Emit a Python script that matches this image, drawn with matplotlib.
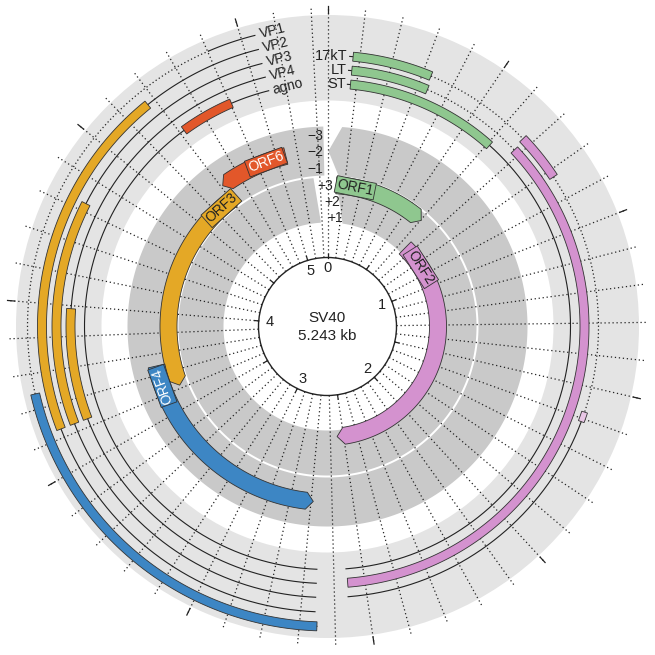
import numpy as np
import matplotlib.pyplot as plt
from matplotlib.patches import Polygon, Circle, Wedge

plt.rcParams['font.family'] = ['Liberation Sans', 'DejaVu Sans']

GENOME_LEN = 5243

# ring radii (px-like units, centre at 0,0)
CIRCLE_R = 69
PLUS_BAND = (104, 149)
MINUS_BAND = (151, 200)
OUTER_BAND = (226, 311.5)

FRAME_LABELS = ["+1", "+2", "+3", "\u22121", "\u22122", "\u22123"]
FRAME_R = [110.5, 126.5, 141.5, 159, 175.5, 192]

# ORFs (bp)
ORF_NAMES = ["ORF1", "ORF2", "ORF3", "ORF4", "ORF6"]
ORF_FRAME = [2, 0, 3, 4, 4]          # index into FRAME_R
ORF_START = [52, 650, 3617, 2689, 4709]
ORF_END = [604, 2549, 4707, 3743, 5043]
ORF_STRAND = [1, 1, -1, -1, -1]
ORF_LABEL_BP = [165, 839, 4633, 3644, 4944]
ORF_COLORS = ["#8fc78f", "#d492cf", "#e4a826", "#3d86c4", "#e2572a"]
ORF_TEXT = ["#222222", "#222222", "#222222", "white", "white"]

# late transcripts (left side)
LATE_NAMES = ["VP1", "VP2", "VP3", "VP4", "agno"]
LATE_R = [300, 285.5, 271, 257, 243]
LATE_TSS = 5039
LATE_END = 2658
LATE_EXON_START = [2651, 3626, 3626, 3626, 4716]
LATE_EXON_END = [3743, 4675, 4325, 3990, 4904]
LATE_INTRON = [(3743, 4904), None, None, None, None]
LATE_COLORS = ["#3d86c4", "#e4a826", "#e4a826", "#e4a826", "#e2572a"]

# early transcripts (right side)
EARLY_NAMES = ["17kT", "LT", "ST"]
EARLY_R = [271, 257, 243]
EARLY_START = 79
EARLY_END = 2558
T17_EXONS = [(79, 327), (672, 823), (1579, 1610)]
T17_INTRONS = [(327, 672), (823, 1579)]
LT_EXONS = [(79, 333), (679, 2556)]
LT_INTRONS = [(333, 679)]
ST_EXONS = [(79, 609)]
ST_INTRONS = []
EARLY_EXON_COLORS = ["#8fc78f", "#d492cf", "#e8c6e5"]

KB_LABELS = ["0", "1", "2", "3", "4", "5"]


def deg(bp):
    return np.asarray(bp, dtype=float) / GENOME_LEN * 360.0


def xy(theta, r):
    t = np.radians(theta)
    return r * np.sin(t), r * np.cos(t)


def band(t1, t2, r1, r2, tip_end=0.0, tip_start=0.0, t1_in=None, t2_in=None, **kw):
    # t1/t2 on the outer edge, t1_in/t2_in on the inner edge (slanted ends)
    rm = (r1 + r2) / 2
    ts = t1 + np.degrees(tip_start / rm)
    te = t2 - np.degrees(tip_end / rm)
    ts_in = ts if t1_in is None else t1_in
    te_in = te if t2_in is None else t2_in
    n = max(int(abs(te - ts) * 3) + 2, 4)
    pts = [xy(a, r2) for a in np.linspace(ts, te, n)]
    if tip_end:
        pts.append(xy(t2, rm))
    pts += [xy(a, r1) for a in np.linspace(te_in, ts_in, n)]
    if tip_start:
        pts.append(xy(t1, rm))
    return Polygon(pts, closed=True, **kw)


def arc_line(ax, t1, t2, r, **kw):
    a = np.linspace(t1, t2, max(int(abs(t2 - t1) * 3) + 2, 3))
    x, y = xy(a, r)
    ax.plot(x, y, **kw)


fig = plt.figure(figsize=(6.55, 6.55), dpi=100)
ax = fig.add_axes([0, 0, 1, 1])
ax.set_xlim(-327.5, 327.5)
ax.set_ylim(-328.5, 326.5)
ax.axis("off")

# background rings
ax.add_patch(Wedge((0, 0), OUTER_BAND[1], 0, 360, width=OUTER_BAND[1] - OUTER_BAND[0],
                   fc="#e4e4e4", ec="none", zorder=1))
ax.add_patch(band(3.3, 354.6, *PLUS_BAND, t1_in=8.3, t2_in=356.4,
                  fc="#c9c9c9", ec="none", zorder=1))
ax.add_patch(band(0.3, 358.8, *MINUS_BAND, tip_start=12, fc="#c9c9c9", ec="none", zorder=1))

# dotted radial grid every 100 bp
for k in range(0, GENOME_LEN // 100 + 1):
    t = deg(k * 100)
    x0, y0 = xy(t, CIRCLE_R)
    x1, y1 = xy(t, 320)
    ax.plot([x0, x1], [y0, y1], color="#222222", lw=0.9, ls=(0, (1, 2.2)), zorder=2)
# outer ticks every 500 bp
for k in range(0, 11):
    t = deg(k * 500)
    x0, y0 = xy(t, 314)
    x1, y1 = xy(t, 321)
    ax.plot([x0, x1], [y0, y1], color="#222222", lw=0.9, zorder=2)

# ORFs
for name, fr, s, e, st, lb, c, tc in zip(ORF_NAMES, ORF_FRAME, ORF_START, ORF_END,
                                         ORF_STRAND, ORF_LABEL_BP, ORF_COLORS, ORF_TEXT):
    r = FRAME_R[fr]
    if st > 0:
        p = band(deg(s), deg(e), r - 8.5, r + 8.5, tip_end=7, fc=c, ec="#333333", lw=0.6, zorder=4)
    else:
        p = band(deg(s), deg(e), r - 8.5, r + 8.5, tip_start=7, fc=c, ec="#333333", lw=0.6, zorder=4)
    ax.add_patch(p)
    tl = deg(lb)
    lx, ly = xy(tl, r)
    ax.text(lx, ly, name, color=tc, fontsize=10, rotation=(-tl) % 360,
            rotation_mode="anchor", ha="center", va="center", zorder=6,
            bbox=dict(boxstyle="square,pad=0.1", fc=c, ec="#333333", lw=0.6))

# frame labels
for lab, r in zip(FRAME_LABELS, FRAME_R):
    if lab.startswith("+"):
        off = {"+1": 15, "+2": 13, "+3": 6}[lab]
    else:
        off = -4
    ax.text(off, r - 1.5, lab, fontsize=10, ha="right", va="center", color="#222222", zorder=6)

# late transcripts
tss = deg(LATE_TSS)
for name, r, es, ee, intr, c in zip(LATE_NAMES, LATE_R, LATE_EXON_START, LATE_EXON_END,
                                    LATE_INTRON, LATE_COLORS):
    if intr is None:
        arc_line(ax, deg(ee), tss, r, color="#222222", lw=0.8, zorder=3)
    else:
        arc_line(ax, deg(intr[0]), deg(intr[1]), r, color="#222222", lw=0.9,
                 ls=(0, (1, 2)), zorder=3)
        arc_line(ax, deg(intr[1]), tss, r, color="#222222", lw=0.8, zorder=3)
    arc_line(ax, deg(LATE_END), deg(es), r, color="#222222", lw=0.8, zorder=3)
    ax.add_patch(band(deg(es), deg(ee), r - 4.5, r + 4.5, fc=c, ec="#333333", lw=0.6, zorder=4))
    lx, ly = xy(tss + 1.0, r)
    ax.text(lx, ly, name, fontsize=10, rotation=(-tss) % 360, rotation_mode="anchor",
            ha="left", va="center", color="#222222", zorder=6)

# early transcripts
for name, r, exons, introns in zip(EARLY_NAMES, EARLY_R,
                                   [T17_EXONS, LT_EXONS, ST_EXONS],
                                   [T17_INTRONS, LT_INTRONS, ST_INTRONS]):
    last = exons[-1][1]
    if last < EARLY_END - 10:
        arc_line(ax, deg(last), deg(EARLY_END), r, color="#222222", lw=0.8, zorder=3)
    for s, e in introns:
        arc_line(ax, deg(s), deg(e), r, color="#222222", lw=0.9, ls=(0, (1, 2)), zorder=3)
    for i, (s, e) in enumerate(exons):
        c = EARLY_EXON_COLORS[min(i, 2)]
        h = 4.5 if i < 2 else 3
        ax.add_patch(band(deg(s), deg(e), r - h, r + h, fc=c, ec="#333333", lw=0.6, zorder=4))
    arc_line(ax, 4.7, deg(EARLY_START), r, color="#222222", lw=0.8, zorder=3)
    lx, ly = xy(4.3, r)
    ax.text(lx, ly, name, fontsize=10.5, ha="right", va="center", color="#222222", zorder=6)

# centre circle
ax.add_patch(Circle((0, 0), CIRCLE_R, fc="white", ec="#222222", lw=1.0, zorder=5))
for k in range(0, 11):
    t = deg(k * 500)
    x0, y0 = xy(t, CIRCLE_R)
    x1, y1 = xy(t, CIRCLE_R + 4)
    ax.plot([x0, x1], [y0, y1], color="#222222", lw=0.9, zorder=5)
for i, lab in enumerate(KB_LABELS):
    lx, ly = xy(deg(i * 1000), 58)
    ax.text(lx, ly, lab, fontsize=10.5, ha="center", va="center", color="#222222", zorder=6)
ax.text(-1, 8, "SV40", fontsize=11, ha="center", va="center", color="#222222", zorder=6)
ax.text(0, -10, "5.243 kb", fontsize=11, ha="center", va="center", color="#222222", zorder=6)

fig.savefig("out.png", dpi=100)
